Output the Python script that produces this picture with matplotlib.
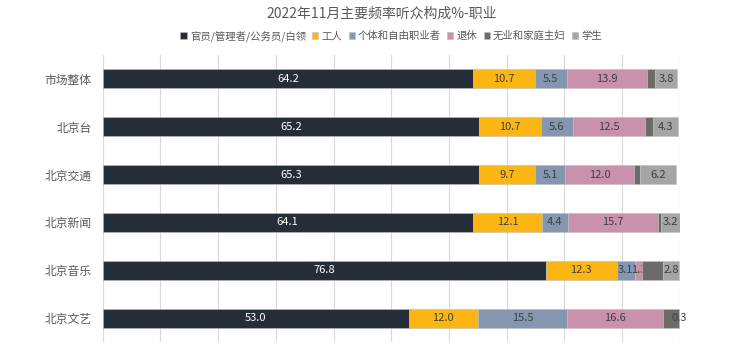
import matplotlib.pyplot as plt
import numpy as np

plt.rcParams['font.family'] = ['Noto Sans CJK SC', 'DejaVu Sans']

categories = ['市场整体', '北京台', '北京交通', '北京新闻', '北京音乐', '北京文艺']
series_names = ['官员/管理者/公务员/白领', '工人', '个体和自由职业者', '退休', '无业和家庭主妇', '学生']
officials = [64.2, 65.2, 65.3, 64.1, 76.8, 53.0]
workers = [10.7, 10.7, 9.7, 12.1, 12.3, 12.0]
self_employed = [5.5, 5.6, 5.1, 4.4, 3.1, 15.5]
retired = [13.9, 12.5, 12.0, 15.7, 1.3, 16.6]
unemployed = [1.5, 1.4, 1.0, 0.5, 3.6, 2.7]
students = [3.8, 4.3, 6.2, 3.2, 2.8, 0.3]

colors = ['#252d38', '#fbb614', '#8497b0', '#c991aa', '#6e6a6a', '#a6a5a5']
text_colors = ['white', '#404040', '#404040', '#404040', None, '#404040']  # no labels on the unemployed series

data = [officials, workers, self_employed, retired, unemployed, students]

fig = plt.figure(figsize=(7.34, 3.52), dpi=100)
ax = fig.add_axes([0.140, 0.028, 0.786, 0.816])

y = np.arange(len(categories))
left = np.zeros(len(categories))
for vals, name, c, tc in zip(data, series_names, colors, text_colors):
    vals = np.array(vals)
    bars = ax.barh(y, vals, left=left, height=0.4, color=c, label=name,
                   edgecolor='#bfbfbf', linewidth=0.4, zorder=3)
    if tc is not None:
        ax.bar_label(bars, labels=[f'{v:.1f}' for v in vals], label_type='center',
                     color=tc, fontsize=8)
    left += vals

ax.set_xlim(0, 100)
ax.set_ylim(len(categories) - 0.5, -0.5)
ax.set_yticks(y)
ax.set_yticklabels(categories, fontsize=8.5, color='#595959')
ax.tick_params(axis='y', length=0, pad=8)
ax.set_xticks(np.arange(0, 101, 10))
ax.tick_params(axis='x', length=0, labelbottom=False)
ax.grid(axis='x', color='#d9d9d9', linewidth=0.8, zorder=0)
for s in ax.spines.values():
    s.set_visible(False)

fig.text(0.52, 0.96, '2022年11月主要频率听众构成%-职业', ha='center', va='center',
         fontsize=10, color='#595959')
fig.legend(loc='center', bbox_to_anchor=(0.533, 0.898), ncol=6, frameon=False,
           fontsize=7.5, handlelength=0.6, handleheight=0.6, handletextpad=0.3,
           columnspacing=0.6, labelcolor='#595959')

fig.savefig('out.png')
